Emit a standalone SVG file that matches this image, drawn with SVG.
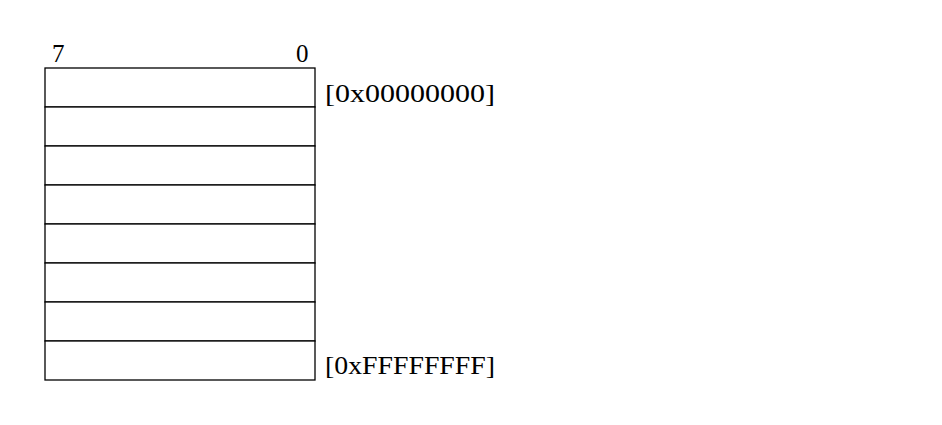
<svg xmlns="http://www.w3.org/2000/svg" width="942" height="425" viewBox="0 0 942 425">
<style>
.t{font-family:"Liberation Serif","DejaVu Serif",serif;font-size:25px;fill:#000}
.row{fill:#fff;stroke:#000;stroke-width:1.3}
</style>
<rect width="942" height="425" fill="#fff"/>
<g id="bits">
<text class="t" x="52" y="62">7</text>
<text class="t" x="296" y="62">0</text>
</g>
<g id="memory">
<rect class="row" x="45" y="68" width="270" height="39"/>
<rect class="row" x="45" y="107" width="270" height="39"/>
<rect class="row" x="45" y="146" width="270" height="39"/>
<rect class="row" x="45" y="185" width="270" height="39"/>
<rect class="row" x="45" y="224" width="270" height="39"/>
<rect class="row" x="45" y="263" width="270" height="39"/>
<rect class="row" x="45" y="302" width="270" height="39"/>
<rect class="row" x="45" y="341" width="270" height="39"/>
</g>
<g id="labels">
<text class="t" x="325" y="102" textLength="170" lengthAdjust="spacingAndGlyphs">[0x00000000]</text>
<text class="t" x="325" y="374" textLength="170" lengthAdjust="spacingAndGlyphs">[0xFFFFFFFF]</text>
</g>
<g id="connectors"></g>
</svg>
